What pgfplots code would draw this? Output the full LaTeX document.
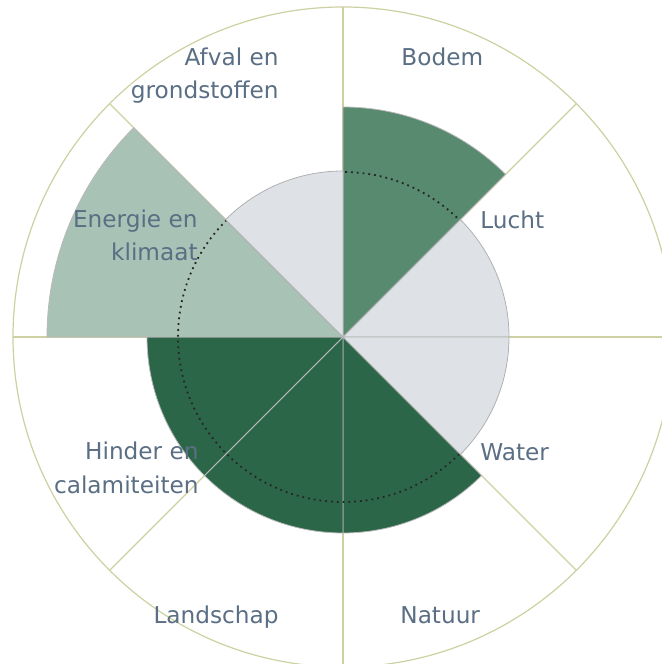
\documentclass[border=0pt]{standalone}
\usepackage{fontspec}
\setmainfont{DejaVu Sans}
\usepackage{pgfplots}
\pgfplotsset{compat=1.18}
\definecolor{dkgreen}{HTML}{2C6649}
\definecolor{mdgreen}{HTML}{578A6F}
\definecolor{ltgreen}{HTML}{A9C2B6}
\definecolor{ltgray}{HTML}{DEE2E6}
\definecolor{olive}{HTML}{CDD0A0}
\definecolor{txt}{HTML}{5A6E84}
\pgfdeclareplotmark{blank}{}
\pgfplotsset{
  sector/.style={
    scatter, only marks, mark=blank,
    visualization depends on={\thisrow{a1} \as \aone},
    visualization depends on={\thisrow{a2} \as \atwo},
    visualization depends on={\thisrow{r} \as \rr},
    scatter/@pre marker code/.code={%
      \pgfmathsetlengthmacro\R{\rr*0.5pt}%
      \path[#1] (0pt,0pt) -- (\aone:\R) arc[start angle=\aone, end angle=\atwo, radius=\R] -- cycle;
    },
    scatter/@post marker code/.code={},
  },
  ring/.style={
    scatter, only marks, mark=blank,
    visualization depends on={\thisrow{r} \as \rr},
    scatter/@pre marker code/.code={%
      \pgfmathsetlengthmacro\R{\rr*0.5pt}%
      \draw[#1] (0pt,0pt) circle[radius=\R];
    },
    scatter/@post marker code/.code={},
  },
}
\newcommand\lbl{\fontsize{11.6}{14}\selectfont}
\tikzset{lab/.style={font=\lbl, text=txt, inner sep=0pt}}
\begin{document}
\begin{tikzpicture}
\begin{axis}[
  x=0.5pt, y=0.5pt,
  xmin=-343, xmax=319, ymin=-327, ymax=337,
  hide axis, clip marker paths=true,
]
% spokes
\addplot[olive, line width=0.6pt] coordinates {(-330,0) (330,0)};
\addplot[olive, line width=0.6pt] coordinates {(0,-330) (0,330)};
\addplot[olive, line width=0.6pt] coordinates {(-233.35,-233.35) (233.35,233.35)};
\addplot[olive, line width=0.6pt] coordinates {(-233.35,233.35) (233.35,-233.35)};
% outer circle
\addplot[ring={olive, line width=0.6pt}] table {
x y r
0 0 330
};
% coloured sectors
\addplot[sector={fill=dkgreen, draw=gray!55, line width=0.4pt}] table {
x y a1 a2 r
0 0 -90 -45 196
0 0 -135 -90 196
0 0 -180 -135 196
};
\addplot[sector={fill=mdgreen, draw=gray!55, line width=0.4pt}] table {
x y a1 a2 r
0 0 45 90 230
};
\addplot[sector={fill=ltgreen, draw=gray!55, line width=0.4pt}] table {
x y a1 a2 r
0 0 135 180 296
};
% reference circle
\addplot[ring={black!85, line width=0.9pt, dash pattern=on 0.9pt off 2pt}] table {
x y r
0 0 165
};
% grey sectors
\addplot[sector={fill=ltgray, draw=gray!60, line width=0.4pt}] table {
x y a1 a2 r
0 0 0 45 166
0 0 -45 0 166
0 0 90 135 166
};
% labels
\node[anchor=base west, lab] at (axis cs:58,271) {Bodem};
\node[anchor=base west, lab] at (axis cs:137,108) {Lucht};
\node[anchor=base west, lab] at (axis cs:137,-124) {Water};
\node[anchor=base west, lab] at (axis cs:57,-287) {Natuur};
\node[anchor=base east, lab] at (axis cs:-64,-287) {Landschap};
\node[anchor=base east, lab] at (axis cs:-144,-123) {Hinder en};
\node[anchor=base east, lab] at (axis cs:-144,-157) {calamiteiten};
\node[anchor=base east, lab] at (axis cs:-145,109) {Energie en};
\node[anchor=base east, lab] at (axis cs:-145,76) {klimaat};
\node[anchor=base east, lab] at (axis cs:-64,271) {Afval en};
\node[anchor=base east, lab] at (axis cs:-64,238) {grondstoffen};
\end{axis}
\pgfresetboundingbox
\useasboundingbox (current axis.south west) rectangle (current axis.north east);
\end{tikzpicture}
\end{document}
